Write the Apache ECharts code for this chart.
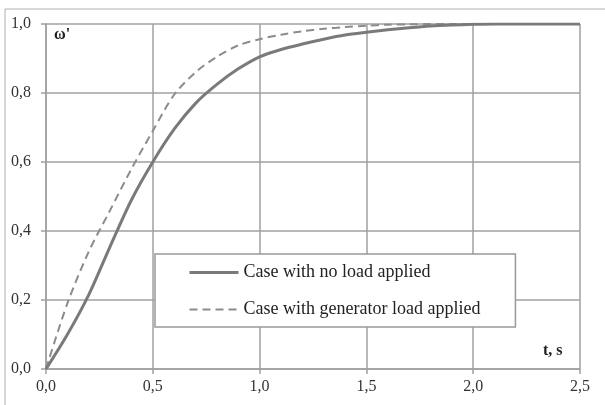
<!DOCTYPE html>
<html>
<head>
<meta charset="utf-8">
<script src="https://cdn.jsdelivr.net/npm/echarts@6/dist/echarts.min.js"></script>
<style>
  html, body { margin: 0; padding: 0; background: #fff; }
  #speedChart { width: 605px; height: 405px; }
</style>
</head>
<body>
<div id="speedChart"></div>
<script>
// time, s
const tValues = [0, 0.1, 0.2, 0.3, 0.4, 0.5, 0.6, 0.7, 0.8, 0.9, 1.0, 1.1, 1.2, 1.3, 1.4, 1.5, 1.6, 1.7, 1.8, 1.9, 2.0, 2.1, 2.2, 2.3, 2.4, 2.5];
// ω' without load
const noLoad = [0, 0.10, 0.215, 0.355, 0.49, 0.60, 0.695, 0.77, 0.825, 0.87, 0.905, 0.926, 0.942, 0.956, 0.968, 0.976, 0.983, 0.989, 0.994, 0.997, 0.999, 1.0, 1.0, 1.0, 1.0, 1.0];
// ω' with generator load
const genLoad = [0, 0.19, 0.34, 0.46, 0.58, 0.69, 0.795, 0.86, 0.905, 0.938, 0.956, 0.969, 0.979, 0.986, 0.991, 0.995, 0.998, 0.999, 1.0, 1.0, 1.0, 1.0, 1.0, 1.0, 1.0, 1.0];
const seriesNames = ["Case with no load applied", "Case with generator load applied"];

const toPairs = vals => tValues.map((t, i) => [t, vals[i]]);
const fmt = v => v.toFixed(1).replace(".", ",");

var myChart = echarts.init(document.getElementById("speedChart"));
const gridColor = "#a0a0a0";
const serif = "'Liberation Serif', 'DejaVu Serif', serif";

var option = {
  animation: false,
  grid: { left: 46, right: 25, top: 24, bottom: 36 },
  // 外框
  graphic: [
    {
      type: "rect",
      shape: { x: 5, y: 9, width: 700, height: 500 },
      style: { fill: "none", stroke: "#b0b0b0", lineWidth: 1 },
      z: 0,
    },
    {
      type: "text",
      left: 54, top: 27,
      style: { text: "ω'", font: "bold 16px " + serif, fill: "#222" },
    },
    {
      type: "text",
      left: 543, top: 343,
      style: { text: "t, s", font: "bold 16px " + serif, fill: "#222" },
    },
  ],
  legend: {
    orient: "vertical",
    left: 155,
    top: 254,
    padding: [9, 35, 8, 33],
    itemGap: 18,
    itemWidth: 49,
    itemHeight: 14,
    itemStyle: { opacity: 0 },
    backgroundColor: "#fff",
    borderColor: "#999",
    borderWidth: 1.5,
    borderRadius: 0,
    textStyle: { fontFamily: serif, fontSize: 18, color: "#222", lineHeight: 19 },
    data: [
      { name: seriesNames[0], lineStyle: { width: 3 } },
      { name: seriesNames[1], lineStyle: { width: 2 } },
    ],
  },
  xAxis: {
    type: "value",
    min: 0,
    max: 2.5,
    interval: 0.5,
    axisLine: { show: true, lineStyle: { color: gridColor, width: 1.5 } },
    axisTick: { show: true, length: 5, lineStyle: { color: gridColor, width: 1.5 } },
    splitLine: { show: true, lineStyle: { color: gridColor, width: 1.5 } },
    axisLabel: { formatter: fmt, margin: 10, fontFamily: serif, fontSize: 16, color: "#333" },
  },
  yAxis: {
    type: "value",
    min: 0,
    max: 1,
    interval: 0.2,
    axisLine: { show: true, lineStyle: { color: gridColor, width: 1.5 } },
    axisTick: { show: true, length: 5, lineStyle: { color: gridColor, width: 1.5 } },
    splitLine: { show: true, lineStyle: { color: gridColor, width: 1.5 } },
    axisLabel: { formatter: fmt, margin: 15, fontFamily: serif, fontSize: 16, color: "#333" },
  },
  series: [
    {
      name: seriesNames[0],
      type: "line",
      smooth: 0.3,
      symbol: "none",
      lineStyle: { color: "#7a7a7a", width: 3 },
      itemStyle: { color: "#7a7a7a" },
      data: toPairs(noLoad),
      z: 3,
    },
    {
      name: seriesNames[1],
      type: "line",
      smooth: 0.3,
      symbol: "none",
      lineStyle: { color: "#8c8c8c", width: 2, type: [8, 5] },
      itemStyle: { color: "#8c8c8c" },
      data: toPairs(genLoad),
      z: 2,
    },
  ],
};
option && myChart.setOption(option);
</script>
</body>
</html>
